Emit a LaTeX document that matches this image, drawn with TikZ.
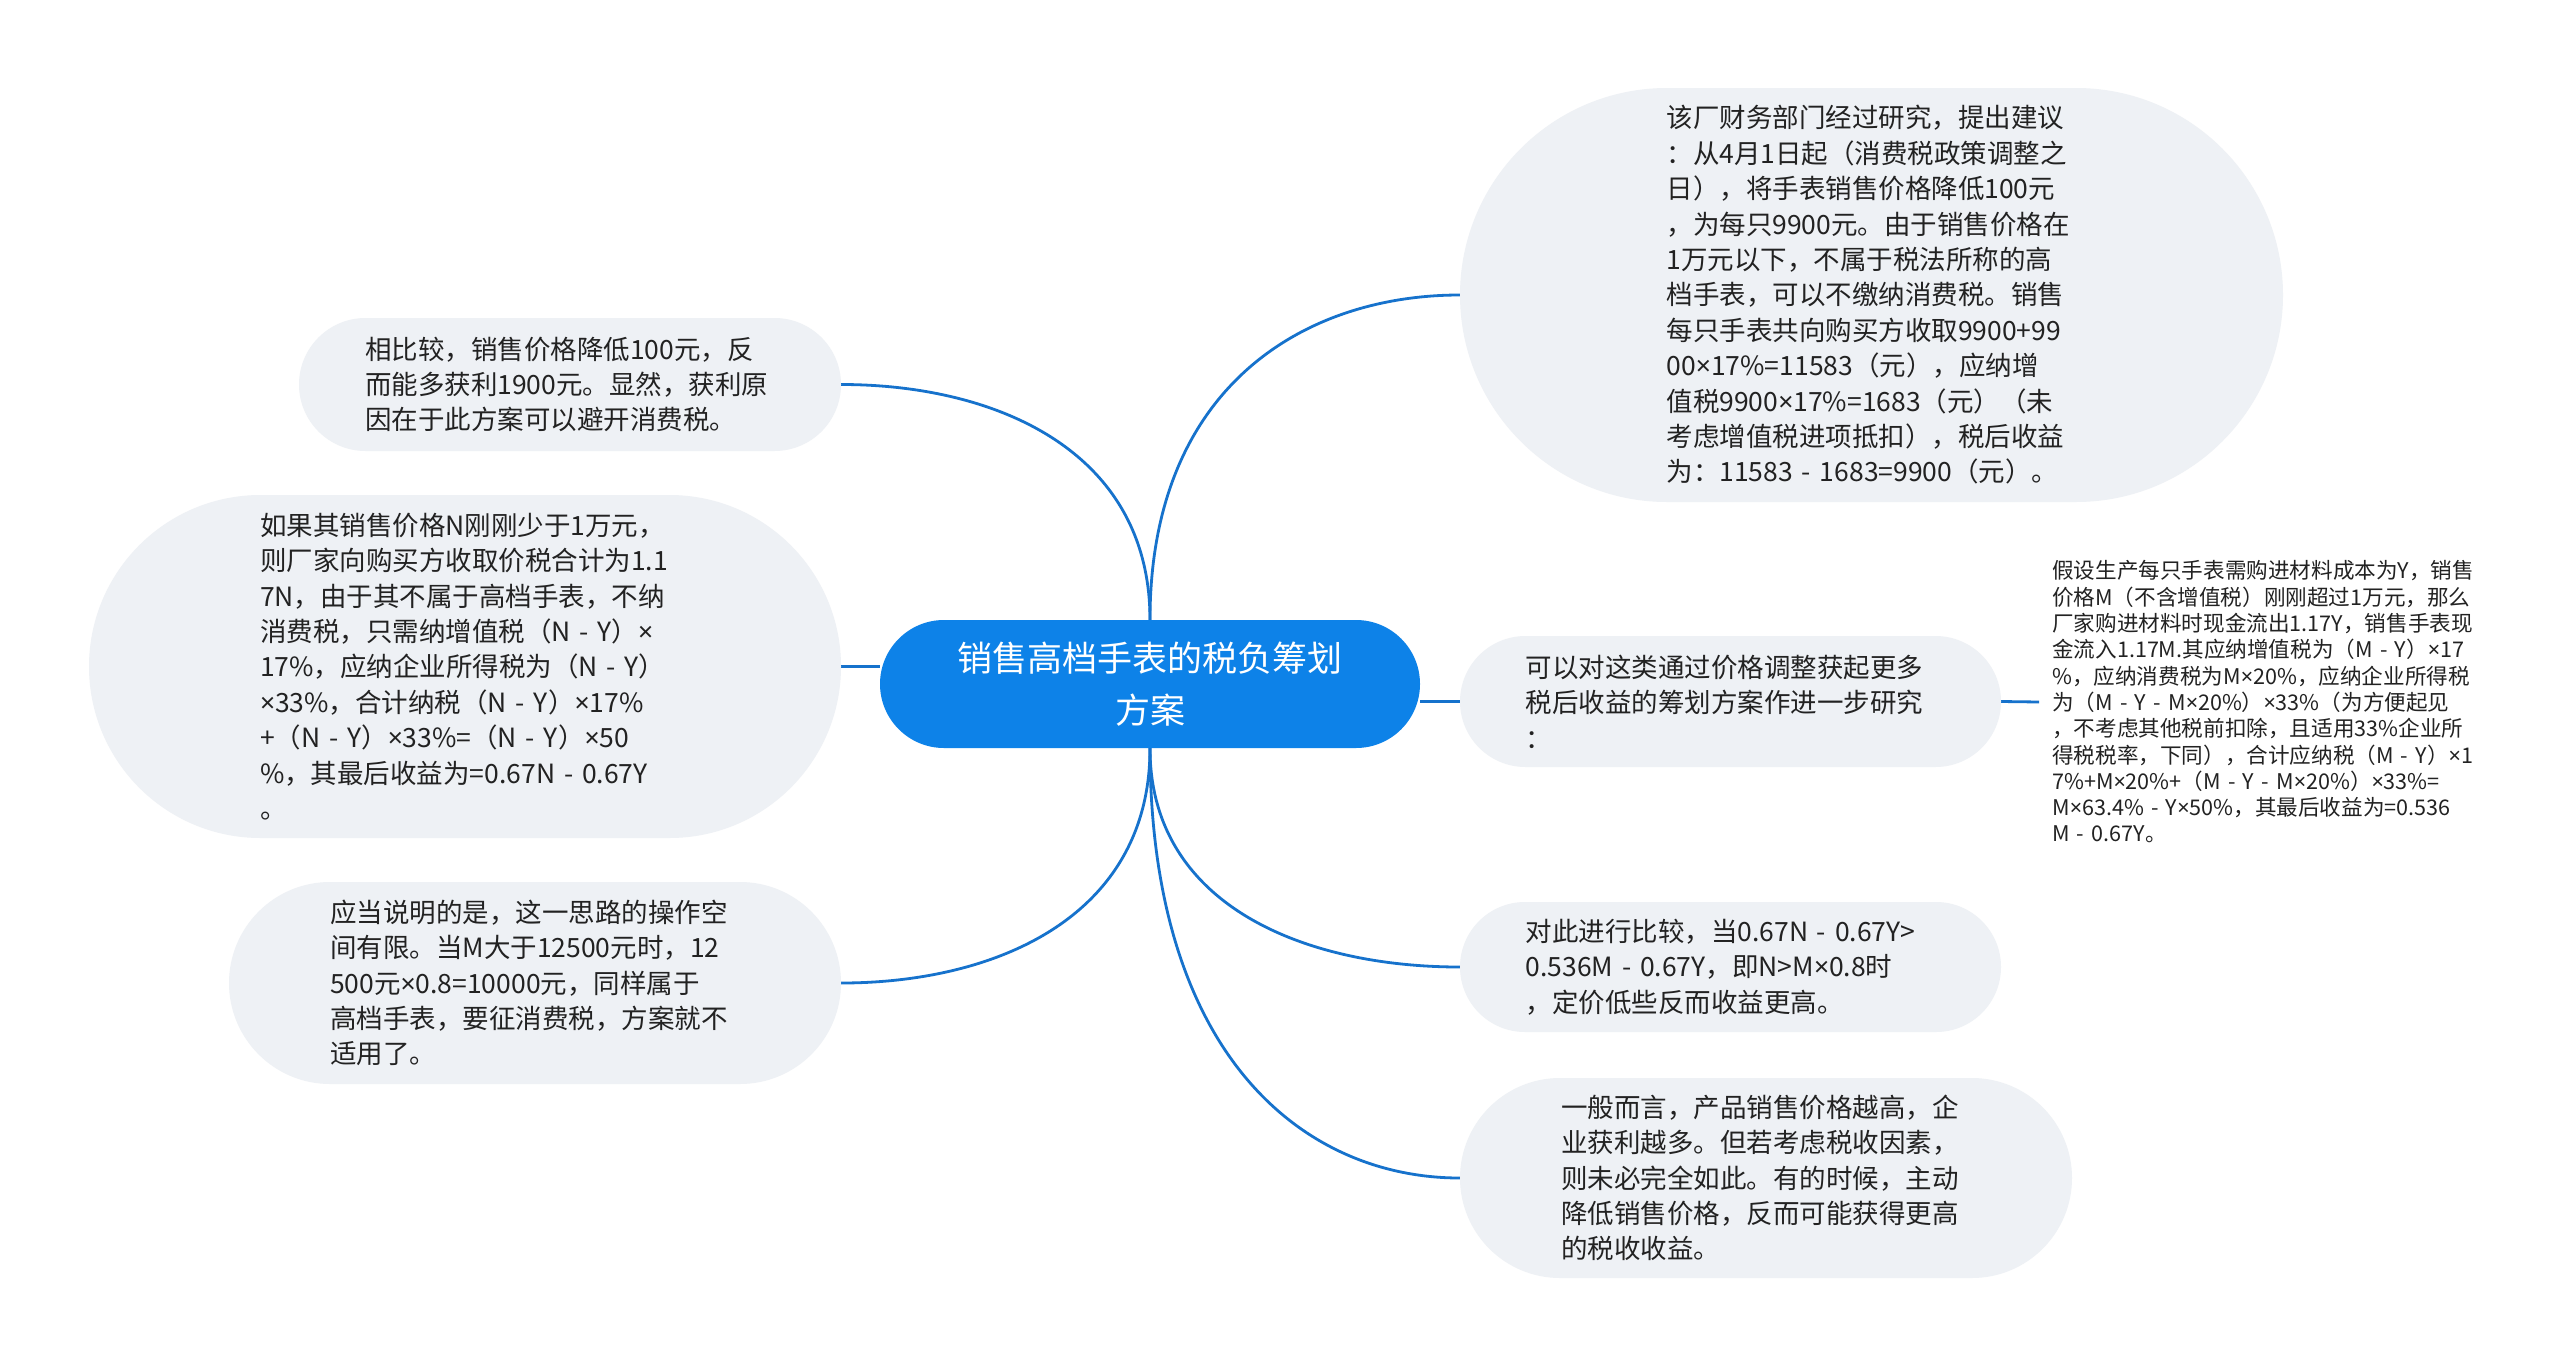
\documentclass[tikz,border=0pt]{standalone}
\usepackage{fontspec}
\setmainfont{Noto Sans CJK SC}
\newfontfamily\latinfont{Noto Sans}
\newcommand{\tm}{{\latinfont ×}}
\exhyphenpenalty=10000
\hyphenpenalty=10000
\pgfdeclarelayer{bg}
\pgfsetlayers{bg,main}
\definecolor{bubblefill}{RGB}{238,241,245}
\definecolor{centralblue}{RGB}{13,130,232}
\definecolor{linkblue}{RGB}{22,114,204}
\definecolor{textdark}{RGB}{34,34,34}
\tikzset{
  bubble/.style={fill=bubblefill, text=textdark, align=left, text width=410pt,
    inner sep=0pt, font=\fontsize{26.5}{35.4}\selectfont},
  centre/.style={fill=centralblue, text=white, align=center, inner sep=0pt,
    font=\fontsize{35}{52}\selectfont},
  smalltext/.style={text=textdark, align=left, text width=410pt, inner xsep=13pt,
    inner ysep=0pt, font=\fontsize{21.6}{26.3}\selectfont},
  link/.style={draw=linkblue, line width=2.8pt},
}
\begin{document}
\begin{tikzpicture}[x=1pt,y=-1pt]
\useasboundingbox (0,0) rectangle (2560,1368);

\node[centre, minimum width=540pt, minimum height=128pt, rounded corners=64pt] (ctr) at (1150,684)
  {销售高档手表的税负筹划\\方案};

\node[bubble, minimum width=823pt, minimum height=414pt, rounded corners=207pt] (r1) at (1871.5,295) {%
该厂财务部门经过研究，提出建议\\
：从4月1日起（消费税政策调整之\\
日），将手表销售价格降低100元\\
，为每只9900元。由于销售价格在\\
1万元以下，不属于税法所称的高\\
档手表，可以不缴纳消费税。销售\\
每只手表共向购买方收取9900+99\\
00\tm17\%=11583（元），应纳增\\
值税9900\tm17\%=1683（元）（未\\
考虑增值税进项抵扣），税后收益\\
为：11583~-~1683=9900（元）。};

\node[bubble, minimum width=541pt, minimum height=131pt, rounded corners=65.5pt] (r2) at (1730.5,701.5) {%
可以对这类通过价格调整获起更多\\
税后收益的筹划方案作进一步研究\\
：};

\node[smalltext, anchor=west] (r2a) at (2039,702) {%
假设生产每只手表需购进材料成本为Y，销售\\
价格M（不含增值税）刚刚超过1万元，那么\\
厂家购进材料时现金流出1.17Y，销售手表现\\
金流入1.17M.其应纳增值税为（M~-~Y）\tm17\\
\%，应纳消费税为M\tm20\%，应纳企业所得税\\
为（M~-~Y~-~M\tm20\%）\tm33\%（为方便起见\\
，不考虑其他税前扣除，且适用33\%企业所\\
得税税率，下同），合计应纳税（M~-~Y）\tm1\\
7\%+M\tm20\%+（M~-~Y~-~M\tm20\%）\tm33\%=\\
M\tm63.4\%~-~Y\tm50\%，其最后收益为=0.536\\
M~-~0.67Y。};

\node[bubble, minimum width=541pt, minimum height=130pt, rounded corners=65pt] (r3) at (1730.5,967) {%
对此进行比较，当0.67N~-~0.67Y>\\
0.536M~-~0.67Y，即N>M\tm0.8时\\
，定价低些反而收益更高。};

\node[bubble, minimum width=612pt, minimum height=200pt, rounded corners=100pt] (r4) at (1766,1178) {%
一般而言，产品销售价格越高，企\\
业获利越多。但若考虑税收因素，\\
则未必完全如此。有的时候，主动\\
降低销售价格，反而可能获得更高\\
的税收收益。};

\node[bubble, minimum width=542pt, minimum height=133pt, rounded corners=66.5pt] (l1) at (570,384.5) {%
相比较，销售价格降低100元，反\\
而能多获利1900元。显然，获利原\\
因在于此方案可以避开消费税。};

\node[bubble, minimum width=752pt, minimum height=343pt, rounded corners=171.5pt] (l2) at (465,666.5) {%
如果其销售价格N刚刚少于1万元，\\
则厂家向购买方收取价税合计为1.1\\
7N，由于其不属于高档手表，不纳\\
消费税，只需纳增值税（N~-~Y）\tm\\
17\%，应纳企业所得税为（N~-~Y）\\
\tm33\%，合计纳税（N~-~Y）\tm17\%\\
+（N~-~Y）\tm33\%=（N~-~Y）\tm50\\
\%，其最后收益为=0.67N~-~0.67Y\\
。};

\node[bubble, minimum width=612pt, minimum height=202pt, rounded corners=101pt] (l3) at (535,983) {%
应当说明的是，这一思路的操作空\\
间有限。当M大于12500元时，12\\
500元\tm0.8=10000元，同样属于\\
高档手表，要征消费税，方案就不\\
适用了。};

\begin{pgfonlayer}{bg}
\fill[white] (0,0) rectangle (2560,1368);
\draw[link] (ctr.north) .. controls (1150,450.4) and (995.5,384.5) .. (l1.east);
\draw[link] (ctr.north) .. controls (1150,386) and (1305,295) .. (r1.west);
\draw[link] (l2.east) -- (l2.east -| ctr.west);
\draw[link] (r2.west) -- (r2.west -| ctr.east);
\draw[link] (r2.east) -- (r2a.west);
\draw[link] (ctr.south) .. controls (1150,917.2) and (995.5,983) .. (l3.east);
\draw[link] (ctr.south) .. controls (1150,905.7) and (1305,967) .. (r3.west);
\draw[link] (ctr.south) .. controls (1150,1057.6) and (1305,1178) .. (r4.west);
\end{pgfonlayer}
\end{tikzpicture}
\end{document}
